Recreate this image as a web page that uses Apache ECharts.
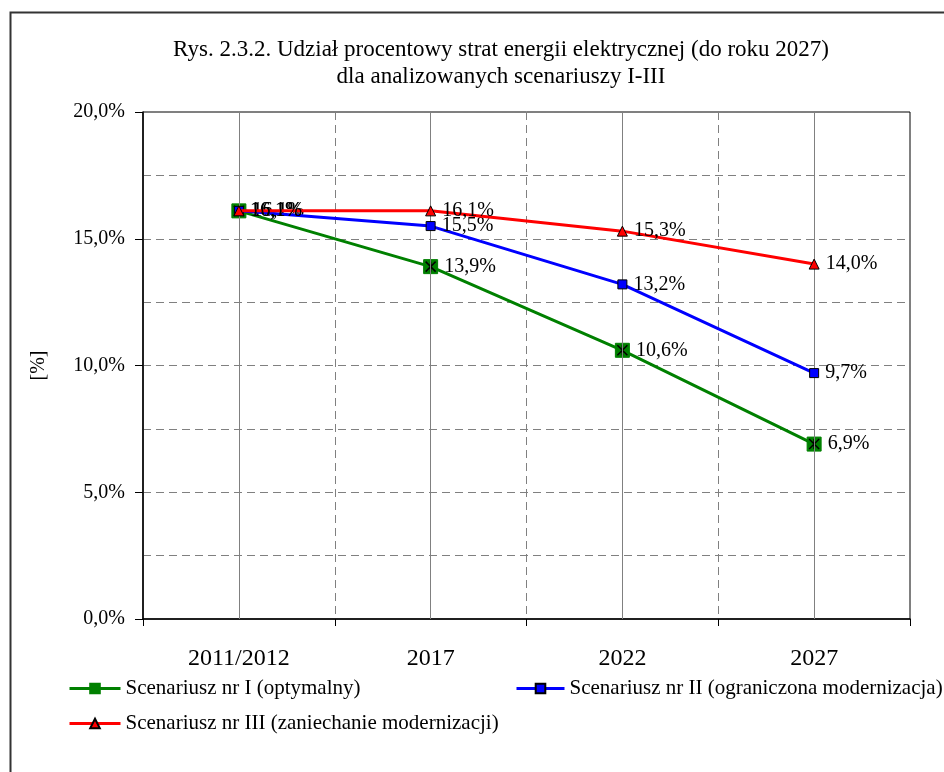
<!DOCTYPE html>
<html>
<head>
<meta charset="utf-8">
<script src="https://cdn.jsdelivr.net/npm/echarts@6/dist/echarts.min.js"></script>
<style>html,body{margin:0;padding:0;background:#fff}#c{width:944px;height:772px}</style>
</head>
<body>
<div id="c"></div>
<script>
const categories = ['2011/2012', '2017', '2022', '2027'];
const scenario1 = [16.1, 13.9, 10.6, 6.9];
const scenario2 = [16.1, 15.5, 13.2, 9.7];
const scenario3 = [16.1, 16.1, 15.3, 14.0];
const seriesNames = ['Scenariusz nr I (optymalny)', 'Scenariusz nr II (ograniczona modernizacja)', 'Scenariusz nr III (zaniechanie modernizacji)'];
const titleText = 'Rys. 2.3.2. Udział procentowy strat energii elektrycznej (do roku 2027)\ndla analizowanych scenariuszy I-III';
const yAxisName = '[%]';

const FONT = 'Liberation Serif';
const fmt = v => v.toFixed(1).replace('.', ',') + '%';
const label = {
  show: true, position: 'right', distance: 6,
  fontFamily: FONT, fontSize: 20, color: '#000',
  formatter: p => fmt(p.value)
};
const legendText = {fontFamily: FONT, fontSize: 21, color: '#000'};
const legendLine = {width: 3};

const chart = echarts.init(document.getElementById('c'), null, {renderer: 'canvas'});
chart.setOption({
  backgroundColor: '#fff',
  animation: false,
  title: {
    text: titleText,
    left: 496, top: 31, textAlign: 'center',
    textStyle: {fontFamily: FONT, fontSize: 23, fontWeight: 'normal', color: '#000', lineHeight: 27}
  },
  graphic: [{
    type: 'polyline', silent: true,
    shape: {points: [[10.5, 772], [10.5, 12.5], [944, 12.5]]},
    style: {stroke: '#333', lineWidth: 2, fill: null}
  }],
  legend: [{
    data: [seriesNames[0]],
    left: 63, top: 673, itemWidth: 51, itemHeight: 12, textStyle: legendText, lineStyle: legendLine
  }, {
    data: [seriesNames[1]],
    left: 510, top: 673, itemWidth: 48, itemHeight: 12, textStyle: legendText, lineStyle: legendLine
  }, {
    data: [seriesNames[2]],
    left: 63, top: 708, itemWidth: 51, itemHeight: 12, textStyle: legendText, lineStyle: legendLine
  }],
  grid: {left: 143, top: 112, right: 34, bottom: 153, show: true, borderColor: '#000', borderWidth: 1, containLabel: false},
  xAxis: {
    type: 'category', data: categories, boundaryGap: true,
    axisLine: {lineStyle: {color: '#000', width: 1.5}},
    axisTick: {show: true, length: 7, lineStyle: {color: '#000'}},
    axisLabel: {fontFamily: FONT, fontSize: 24, color: '#000', margin: 28},
    splitLine: {show: true, lineStyle: {color: '#808080', type: [8, 5], width: 1}}
  },
  yAxis: {
    type: 'value', min: 0, max: 20, interval: 5,
    name: yAxisName, nameLocation: 'middle', nameGap: 94, nameRotate: 90,
    nameTextStyle: {fontFamily: FONT, fontSize: 20, color: '#000'},
    axisLine: {show: true, lineStyle: {color: '#000', width: 1.5}},
    axisTick: {show: true, length: 8, lineStyle: {color: '#000'}},
    axisLabel: {fontFamily: FONT, fontSize: 20, color: '#000', margin: 18, formatter: v => fmt(v)},
    splitLine: {show: true, lineStyle: {color: '#808080', type: [8, 5], width: 1}},
    minorTick: {show: false, splitNumber: 2},
    minorSplitLine: {show: true, lineStyle: {color: '#808080', type: [8, 5], width: 1}}
  },
  series: [
    {
      type: 'line', data: [], z: 1, silent: true,
      markLine: {
        silent: true, symbol: ['none', 'none'], label: {show: false},
        lineStyle: {color: '#808080', type: 'solid', width: 1},
        data: categories.map(c => ({xAxis: c}))
      }
    },
    {
      name: seriesNames[0], type: 'line', data: scenario1, z: 3,
      symbol: 'rect', symbolSize: 14,
      lineStyle: {color: '#008000', width: 3},
      itemStyle: {color: '#008000', borderColor: '#008000', borderWidth: 1},
      label: label
    },
    {
      type: 'line', data: scenario1, z: 4, silent: true,
      symbol: 'path://M0,0L10,10M10,0L0,10M5,0L5,10', symbolSize: 10,
      lineStyle: {opacity: 0, width: 0},
      itemStyle: {color: 'transparent', borderColor: '#000', borderWidth: 1.5}
    },
    {
      name: seriesNames[1], type: 'line', data: scenario2, z: 5,
      symbol: 'rect', symbolSize: 9,
      lineStyle: {color: '#0000ff', width: 3},
      itemStyle: {color: '#0000ff', borderColor: '#000', borderWidth: 1},
      label: label
    },
    {
      name: seriesNames[2], type: 'line', data: scenario3, z: 6,
      symbol: 'triangle', symbolSize: 10,
      lineStyle: {color: '#ff0000', width: 3},
      itemStyle: {color: '#ff0000', borderColor: '#000', borderWidth: 1},
      label: label
    }
  ]
});
</script>
</body>
</html>
